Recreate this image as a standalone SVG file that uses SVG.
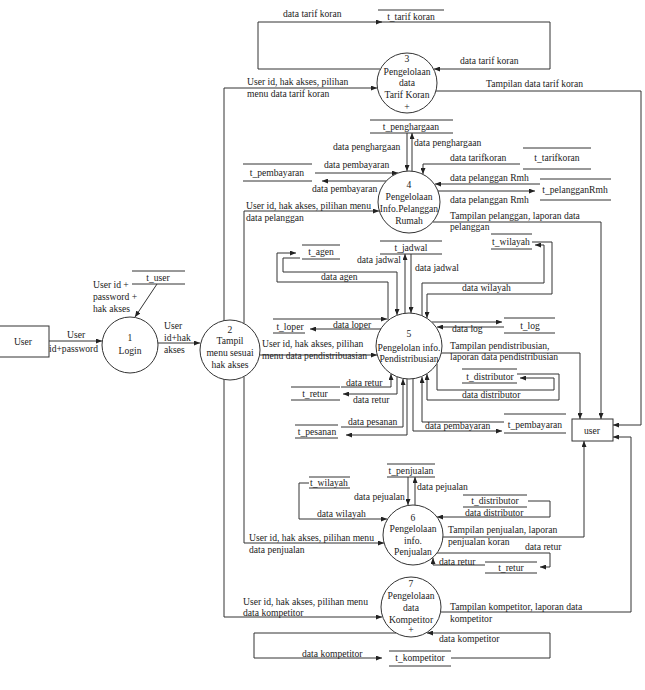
<svg xmlns="http://www.w3.org/2000/svg" width="645" height="690" viewBox="0 0 645 690">
<style>
.ln{fill:none;stroke:#333;stroke-width:1}
.nd{fill:#fff;stroke:#333;stroke-width:1}
.st{fill:none;stroke:#333;stroke-width:1}
text{font-family:"Liberation Serif","Times New Roman",serif;font-size:9.6px;fill:#222}
.c{text-anchor:middle}
</style>
<defs>
<marker id="ah" markerUnits="userSpaceOnUse" markerWidth="6" markerHeight="5" refX="6" refY="2.5" orient="auto">
<path d="M0,0 L6,2.5 L0,5 z" fill="#222"/>
</marker>
</defs>
<rect width="645" height="690" fill="#fff"/>

<g id="connectors">
<g class="ln" marker-end="url(#ah)">
<path d="M49,341 H102"/>
<path d="M157,284 L135,317"/>
<path d="M158,343 H200"/>
<path d="M224,321 V88 H377"/>
<path d="M244,323 V211 H379"/>
<path d="M260,355 H377"/>
<path d="M244,377 V543 H384"/>
<path d="M224,379 V617 H382"/>
<path d="M380,69 H258 V22 H382"/>
<path d="M444,22 H550 V69 H434"/>
<path d="M436,91 H641 V425 H613"/>
<path d="M407,133 V171"/>
<path d="M412,171 V133"/>
<path d="M315,173 H398"/>
<path d="M386,181 H322"/>
<path d="M520,164 H423 V174"/>
<path d="M540,184 H435"/>
<path d="M438,191 H535"/>
<path d="M433,222 H601 V419"/>
<path d="M300,258 H283 V272 H397 V315"/>
<path d="M388,320 V282 H277 V253 H296"/>
<path d="M305,319 H387"/>
<path d="M381,329 H310"/>
<path d="M405,313 V254"/>
<path d="M411,254 V313"/>
<path d="M422,316 V283 H544 V245 H535"/>
<path d="M532,242 H552 V294 H427 V318"/>
<path d="M432,322 H502"/>
<path d="M504,327 H437"/>
<path d="M441,353 H580 V419"/>
<path d="M437,364 V390 H554 V378 H520"/>
<path d="M517,374 H559 V400 H427 V374"/>
<path d="M413,379 V431 H502"/>
<path d="M504,422 H422 V377"/>
<path d="M341,387 H391 V374"/>
<path d="M397,377 V394 H343"/>
<path d="M341,427 H403 V379"/>
<path d="M407,379 V435 H346"/>
<path d="M408,477 V505"/>
<path d="M415,505 V477"/>
<path d="M309,483 H299 V519 H387"/>
<path d="M528,501 H550 V517 H437"/>
<path d="M443,537 H584 V441"/>
<path d="M437,553 H550 V567 H540"/>
<path d="M485,565 H433 V558"/>
<path d="M441,612 H631 V437 H613"/>
<path d="M451,658 H550 V633 H427"/>
<path d="M396,633 H254 V658 H382"/>
</g>
<text x="67" y="338">User</text>
<text x="49" y="352">id+password</text>
<text x="93" y="288">User id +</text>
<text x="93" y="300">password +</text>
<text x="93" y="312">hak akses</text>
<text x="164" y="329">User</text>
<text x="164" y="341">id+hak</text>
<text x="164" y="353">akses</text>
<text x="283" y="17">data tarif koran</text>
<text x="460" y="64">data tarif koran</text>
<text x="247" y="85">User id, hak akses, pilihan</text>
<text x="247" y="97">menu data tarif koran</text>
<text x="486" y="87">Tampilan data tarif koran</text>
<text x="333" y="150">data penghargaan</text>
<text x="414" y="146">data penghargaan</text>
<text x="324" y="168">data pembayaran</text>
<text x="312" y="192">data pembayaran</text>
<text x="450" y="161">data tarifkoran</text>
<text x="450" y="181">data pelanggan Rmh</text>
<text x="450" y="203">data pelanggan Rmh</text>
<text x="246" y="209">User id, hak akses, pilihan menu</text>
<text x="246" y="221">data pelanggan</text>
<text x="450" y="219">Tampilan pelanggan, laporan data</text>
<text x="450" y="230">pelanggan</text>
<text x="321" y="280">data agen</text>
<text x="357" y="263">data jadwal</text>
<text x="415" y="271">data jadwal</text>
<text x="462" y="291">data wilayah</text>
<text x="333" y="328">data loper</text>
<text x="452" y="332">data log</text>
<text x="262" y="347">User id, hak akses, pilihan</text>
<text x="262" y="359">menu data pendistribuasian</text>
<text x="450" y="349">Tampilan pendistribusian,</text>
<text x="450" y="360">laporan data pendistribusian</text>
<text x="462" y="398">data distributor</text>
<text x="346" y="386">data retur</text>
<text x="353" y="403">data retur</text>
<text x="348" y="425">data pesanan</text>
<text x="425" y="429">data pembayaran</text>
<text x="354" y="500">data pejualan</text>
<text x="417" y="490">data pejualan</text>
<text x="317" y="517">data wilayah</text>
<text x="465" y="516">data distributor</text>
<text x="249" y="541">User id, hak akses, pilihan menu</text>
<text x="249" y="553">data penjualan</text>
<text x="448" y="533">Tampilan penjualan, laporan</text>
<text x="448" y="545">penjualan koran</text>
<text x="525" y="550">data retur</text>
<text x="439" y="565">data retur</text>
<text x="243" y="605">User id, hak akses, pilihan menu</text>
<text x="243" y="616">data kompetitor</text>
<text x="450" y="610">Tampilan kompetitor, laporan data</text>
<text x="450" y="622">kompetitor</text>
<text x="439" y="642">data kompetitor</text>
<text x="302" y="657">data kompetitor</text>
</g>

<g id="ext-user">
<rect class="nd" x="-1" y="326" width="50" height="31"/>
<text class="c" x="23" y="345">User</text>
</g>
<g id="ext-user-out">
<rect class="nd" x="572" y="419" width="41" height="22"/>
<text class="c" x="592" y="434">user</text>
</g>

<g id="p1">
<circle class="nd" cx="130" cy="345" r="28"/>
<text class="c" x="130" y="341">1</text>
<text class="c" x="130" y="354">Login</text>
</g>
<g id="p2">
<circle class="nd" cx="230" cy="350" r="30"/>
<text class="c" x="230" y="333">2</text>
<text class="c" x="230" y="344">Tampil</text>
<text class="c" x="230" y="356">menu sesuai</text>
<text class="c" x="230" y="368">hak akses</text>
</g>
<g id="p3">
<circle class="nd" cx="407" cy="83" r="30"/>
<text class="c" x="407" y="62">3</text>
<text class="c" x="407" y="74.5">Pengelolaan</text>
<text class="c" x="407" y="86">data</text>
<text class="c" x="407" y="98">Tarif Koran</text>
<text class="c" x="407" y="110">+</text>
</g>
<g id="p4">
<circle class="nd" cx="409" cy="202" r="31"/>
<text class="c" x="409" y="188">4</text>
<text class="c" x="409" y="200">Pengelolaan</text>
<text class="c" x="409" y="212">Info.Pelanggan</text>
<text class="c" x="409" y="224">Rumah</text>
</g>
<g id="p5">
<circle class="nd" cx="409" cy="346" r="33"/>
<text class="c" x="409" y="337">5</text>
<text class="c" x="409" y="351">Pengelolan info.</text>
<text class="c" x="409" y="362">Pendistribusian</text>
</g>
<g id="p6">
<circle class="nd" cx="413" cy="535" r="30"/>
<text class="c" x="413" y="521">6</text>
<text class="c" x="413" y="532">Pengelolaan</text>
<text class="c" x="413" y="544">info.</text>
<text class="c" x="413" y="555">Penjualan</text>
</g>
<g id="p7">
<circle class="nd" cx="411" cy="607" r="30"/>
<text class="c" x="411" y="587">7</text>
<text class="c" x="411" y="599">Pengelolaan</text>
<text class="c" x="411" y="611">data</text>
<text class="c" x="411" y="623">Kompetitor</text>
<text class="c" x="411" y="633">+</text>
</g>

<g id="ds-t_user"><path class="st" d="M132,271 H185 M132,284 H185"/><text class="c" x="158" y="281">t_user</text></g>
<g id="ds-t_tarif_koran"><path class="st" d="M378,10 H444 M378,22 H444"/><text class="c" x="411" y="20">t_tarif koran</text></g>
<g id="ds-t_penghargaan"><path class="st" d="M370,120 H453 M370,133 H453"/><text class="c" x="411" y="130">t_penghargaan</text></g>
<g id="ds-t_pembayaran-1"><path class="st" d="M243,164 H312 M243,181 H312"/><text class="c" x="277" y="176">t_pembayaran</text></g>
<g id="ds-t_tarifkoran"><path class="st" d="M523,148 H591 M523,169 H591"/><text class="c" x="557" y="161">t_tarifkoran</text></g>
<g id="ds-t_pelangganRmh"><path class="st" d="M540,179 H611 M540,200 H611"/><text class="c" x="575" y="193">t_pelangganRmh</text></g>
<g id="ds-t_agen"><path class="st" d="M302,245 H340 M302,259 H340"/><text class="c" x="321" y="255">t_agen</text></g>
<g id="ds-t_jadwal"><path class="st" d="M380,241 H442 M380,254 H442"/><text class="c" x="411" y="251">t_jadwal</text></g>
<g id="ds-t_wilayah-1"><path class="st" d="M491,234 H532 M491,249 H532"/><text class="c" x="511" y="245">t_wilayah</text></g>
<g id="ds-t_loper"><path class="st" d="M273,319 H305 M273,333 H305"/><text class="c" x="290" y="330">t_loper</text></g>
<g id="ds-t_log"><path class="st" d="M504,318 H555 M504,333 H555"/><text class="c" x="530" y="329">t_log</text></g>
<g id="ds-t_distributor-1"><path class="st" d="M462,369 H517 M462,383 H517"/><text class="c" x="490" y="380">t_distributor</text></g>
<g id="ds-t_retur-1"><path class="st" d="M291,387 H340 M291,400 H340"/><text class="c" x="315" y="397">t_retur</text></g>
<g id="ds-t_pesanan"><path class="st" d="M295,425 H338 M295,438 H338"/><text class="c" x="317" y="435">t_pesanan</text></g>
<g id="ds-t_pembayaran-2"><path class="st" d="M504,414 H566 M504,433 H566"/><text class="c" x="535" y="428">t_pembayaran</text></g>
<g id="ds-t_penjualan"><path class="st" d="M387,464 H435 M387,477 H435"/><text class="c" x="411" y="474">t_penjualan</text></g>
<g id="ds-t_wilayah-2"><path class="st" d="M309,477 H350 M309,488 H350"/><text class="c" x="329" y="486">t_wilayah</text></g>
<g id="ds-t_distributor-2"><path class="st" d="M463,495 H527 M463,507 H527"/><text class="c" x="495" y="504">t_distributor</text></g>
<g id="ds-t_retur-2"><path class="st" d="M485,562 H537 M485,573 H537"/><text class="c" x="511" y="571">t_retur</text></g>
<g id="ds-t_kompetitor"><path class="st" d="M389,651 H451 M389,666 H451"/><text class="c" x="420" y="661">t_kompetitor</text></g>
</svg>
